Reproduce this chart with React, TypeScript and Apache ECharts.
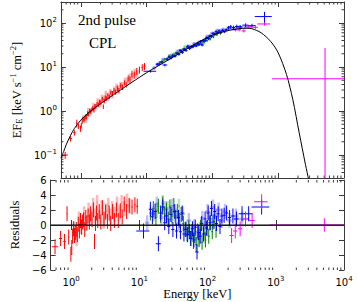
import React, { useEffect, useRef } from 'react';
import * as echarts from 'echarts';

// model curve (absorbed cutoff power law)
const modelEnergy = [0.5, 0.55, 0.6, 0.7, 0.8, 1.0, 1.3, 1.8, 2.5, 4, 6, 10, 15, 20, 30, 50, 85, 120, 170, 250, 330, 400, 550, 770, 1000, 1340, 1670, 2085, 2600, 2900, 3100];
const modelFlux = [0.085, 0.12, 0.17, 0.28, 0.4, 0.62, 0.9, 1.3, 1.85, 3.0, 4.5, 7.4, 10.6, 13.6, 19.5, 31, 47, 58, 67, 74, 76, 74, 60, 38, 21, 6.7, 1.8, 0.32, 0.06, 0.027, 0.012];

// [energy keV, half width keV, EF_E, relative error, residual]
const redPts = [
  [0.58, 0.06, 0.1, 0.18, -2.9], [0.7, 0.035, 0.235, 0.14, -1.8], [0.8, 0.035, 0.32, 0.14, -2.2],
  [0.87, 0.01, 0.53, 0.2, 1.5], [0.92, 0.015, 0.455, 0.14, -1.6], [0.99, 0.01, 0.4, 0.16, -3.9],
  [1.02, 0.01, 0.465, 0.14, -3.0], [1.05, 0.012, 0.575, 0.12, -1.5], [1.08, 0.012, 0.66, 0.12, -0.5],
  [1.12, 0.012, 0.64, 0.12, -1.4], [1.15, 0.012, 0.687, 0.12, -1.0], [1.19, 0.012, 0.75, 0.12, -0.6],
  [1.23, 0.015, 0.733, 0.12, -1.3], [1.27, 0.015, 0.88, 0.12, 0.1], [1.32, 0.015, 0.85, 0.12, -0.8],
  [1.37, 0.015, 1.01, 0.12, 0.6], [1.42, 0.015, 0.97, 0.12, -0.3], [1.47, 0.015, 1.07, 0.12, 0.4],
  [1.52, 0.02, 1.145, 0.12, 0.7], [1.58, 0.02, 1.05, 0.12, -0.6], [1.64, 0.02, 1.29, 0.12, 1.0],
  [1.7, 0.02, 1.26, 0.12, 0.3], [1.77, 0.02, 1.43, 0.12, 1.2], [1.85, 0.02, 1.39, 0.12, 0.4],
  [1.93, 0.02, 1.61, 0.12, 1.5], [2.02, 0.025, 1.57, 0.12, 0.7], [2.12, 0.025, 1.86, 0.12, 2.0],
  [2.2, 0.025, 1.26, 0.12, -2.2], [2.27, 0.025, 1.7, 0.12, 0.2], [2.36, 0.025, 2.02, 0.12, 1.6],
  [2.45, 0.03, 1.92, 0.12, 0.6], [2.58, 0.03, 2.25, 0.12, 1.8], [2.72, 0.03, 2.1, 0.12, 0.4],
  [2.87, 0.03, 2.62, 0.12, 2.3], [3.03, 0.035, 2.5, 0.14, 0.8], [3.2, 0.035, 2.91, 0.14, 1.7],
  [3.4, 0.04, 2.71, 0.14, 0.5], [3.6, 0.04, 3.25, 0.14, 1.6], [3.8, 0.04, 2.92, 0.14, 0.2],
  [4.05, 0.05, 3.75, 0.14, 1.8], [4.3, 0.05, 3.47, 0.14, 0.6], [4.6, 0.05, 4.35, 0.14, 2.0],
  [4.9, 0.06, 3.96, 0.14, 0.6], [5.25, 0.06, 5.44, 0.18, 1.9], [5.6, 0.07, 5.12, 0.18, 1.1],
  [6.0, 0.08, 7.0, 0.18, 2.8], [6.5, 0.08, 6.6, 0.18, 1.8], [7.1, 0.1, 8.06, 0.18, 2.6],
  [7.8, 0.15, 8.6, 0.18, 2.4], [8.6, 0.2, 9.8, 0.18, 2.7], [9.3, 0.3, 10.4, 0.18, 2.5],
];
const redLightPts = [
  [1.1, 0.02, 0.67, 0.2, -0.5], [1.2, 0.02, 0.66, 0.2, -1.8], [1.3, 0.02, 0.97, 0.2, 0.8],
  [1.4, 0.02, 0.96, 0.2, -0.2], [1.55, 0.025, 1.27, 0.2, 1.5], [1.65, 0.025, 1.21, 0.2, 0.2],
  [1.8, 0.03, 1.62, 0.2, 2.0], [1.95, 0.03, 1.55, 0.2, 0.9], [2.1, 0.03, 1.97, 0.2, 2.6],
  [2.25, 0.035, 1.86, 0.2, 1.2], [2.4, 0.035, 2.42, 0.2, 3.0], [2.6, 0.04, 2.15, 0.2, 1.0],
  [2.8, 0.04, 2.65, 0.2, 2.3], [3.0, 0.045, 2.38, 0.2, 0.5], [3.25, 0.05, 3.0, 0.2, 1.9],
  [3.5, 0.05, 3.5, 0.2, 2.6], [3.75, 0.055, 3.25, 0.2, 1.2], [4.0, 0.06, 3.85, 0.2, 2.2],
  [4.3, 0.065, 3.8, 0.2, 1.4], [4.7, 0.07, 4.8, 0.2, 2.8], [5.1, 0.08, 4.8, 0.2, 1.6],
  [5.5, 0.08, 5.9, 0.2, 3.0], [6.0, 0.09, 6.1, 0.2, 2.2], [6.6, 0.1, 7.6, 0.2, 3.2],
  [7.2, 0.11, 7.1, 0.2, 2.5],
];
const greenPts = [
  [14.5, 0.45, 11.3, 0.07, 1.6], [16, 0.5, 12.7, 0.07, 2.2], [17.5, 0.5, 12.8, 0.07, 1.0],
  [19, 0.6, 15.0, 0.07, 2.5], [20.5, 0.6, 15.0, 0.07, 1.3], [22, 0.7, 17.3, 0.07, 2.8],
  [23.5, 0.7, 17.1, 0.07, 1.5], [25, 0.8, 18.6, 0.07, 2.0], [26.5, 0.8, 18.3, 0.07, 0.8],
  [28, 0.9, 20.9, 0.07, 2.4], [30, 0.9, 20.9, 0.07, 1.2], [32, 1.0, 23.9, 0.07, 2.6],
  [34, 1.0, 23.2, 0.07, 1.0], [36, 1.1, 25.5, 0.07, 1.8], [38.5, 1.2, 25.4, 0.07, 0.6],
  [41, 1.2, 28.1, 0.07, 1.4], [44, 1.3, 27.9, 0.07, 0.2], [47, 1.4, 28.2, 0.07, -0.6],
  [50, 1.5, 28.8, 0.07, -1.2], [53, 1.6, 31.6, 0.07, -0.4], [56, 1.7, 30.2, 0.07, -1.8],
  [59, 1.8, 33.4, 0.07, -0.9], [62, 1.9, 31.9, 0.07, -2.2], [65, 2.0, 34.8, 0.07, -1.4],
  [68, 2.0, 33.3, 0.07, -2.6], [71, 2.1, 38.8, 0.07, -0.8], [75, 2.2, 37.7, 0.07, -1.9],
  [79, 2.4, 43.5, 0.07, -0.3], [83, 2.5, 39.7, 0.07, -2.3], [88, 2.6, 45.1, 0.07, -1.0],
  [93, 2.8, 43.6, 0.07, -2.0], [98, 2.9, 49.8, 0.07, -0.5], [104, 3.1, 48.4, 0.07, -1.5],
  [110, 3.3, 56.0, 0.07, 0.3], [117, 3.5, 54.0, 0.07, -0.9], [125, 3.8, 60.8, 0.07, 0.5],
  [133, 4.0, 58.1, 0.07, -0.7],
];
const greenLightPts = [
  [18, 0.7, 14.1, 0.1, 2.0], [22, 0.9, 17.9, 0.1, 3.0], [26, 1.0, 19.8, 0.1, 2.2],
  [32, 1.3, 22.9, 0.1, 1.5], [38, 1.5, 28.4, 0.1, 2.5], [60, 2.4, 33.3, 0.1, -1.0],
  [75, 3.0, 36.5, 0.1, -2.0], [90, 3.6, 43.6, 0.1, -1.5],
];
const bluePts = [
  [11.5, 2.5, 8.0, 0.07, -0.8], [14.5, 0.8, 11.6, 0.07, 2.1], [15.5, 0.8, 11.6, 0.07, 1.1],
  [17, 0.9, 13.1, 0.07, 1.8], [19, 1.6, 11.1, 0.07, -2.5], [20.5, 1.0, 15.2, 0.07, 1.6],
  [22, 1.1, 16.9, 0.07, 2.4], [23.5, 1.2, 16.0, 0.07, 0.3], [25, 1.3, 17.8, 0.07, 1.2],
  [27, 1.4, 17.6, 0.07, -0.2], [29, 1.5, 20.5, 0.07, 1.4], [31, 1.6, 19.4, 0.07, -0.6],
  [33, 1.7, 23.6, 0.07, 1.8], [35, 1.8, 21.3, 0.07, -0.8], [37.5, 1.9, 25.3, 0.07, 1.0],
  [40, 2.0, 23.9, 0.07, -0.9], [42.5, 2.1, 29.4, 0.07, 1.6], [45, 2.3, 26.2, 0.07, -1.2],
  [48, 2.4, 28.8, 0.07, -0.6], [51, 2.6, 29.0, 0.07, -1.3], [54, 2.7, 31.1, 0.07, -0.9],
  [57, 2.9, 30.6, 0.07, -1.8], [60, 3.0, 34.7, 0.07, -0.5], [63, 3.2, 32.6, 0.07, -2.0],
  [66, 3.3, 37.8, 0.07, -0.3], [70, 4.0, 31.6, 0.07, -3.6], [74, 3.7, 39.6, 0.07, -1.0],
  [78, 3.9, 39.9, 0.07, -1.5], [82, 4.1, 46.1, 0.07, 0.2], [87, 4.4, 44.3, 0.07, -1.2],
  [92, 4.6, 51.7, 0.07, 0.8], [97, 4.9, 49.7, 0.07, -0.4], [102, 5.1, 57.5, 0.07, 1.6],
  [108, 5.4, 55.4, 0.07, 0.3], [114, 5.7, 63.6, 0.07, 2.2], [120, 6.0, 59.4, 0.07, 0.4],
  [127, 6.4, 65.8, 0.07, 1.8], [135, 6.8, 61.6, 0.07, 0.2], [143, 7.2, 68.0, 0.07, 1.5],
  [152, 7.6, 63.2, 0.07, -0.2], [162, 8.1, 70.5, 0.07, 1.2], [175, 9, 78, 0.1, 1.3],
  [190, 10, 82, 0.1, 1.6], [210, 12, 79, 0.1, 1.0], [235, 15, 83, 0.1, 1.2],
  [265, 20, 81.5, 0.1, 0.8], [320, 35, 89.4, 0.1, 1.5], [400, 55, 87, 0.1, 1.5],
  [620, 180, 140, 0.28, 2.4],
];
const blueLightPts = [
  [13, 1.0, 9.5, 0.1, 0.3], [16, 1.3, 12.4, 0.1, 1.5], [18, 1.4, 14.8, 0.1, 2.8],
  [21, 1.7, 15.2, 0.1, 1.0], [24, 1.9, 18.5, 0.1, 2.2], [27, 2.2, 18.8, 0.1, 0.8],
  [30, 2.4, 22.9, 0.1, 2.5], [34, 2.7, 23.7, 0.1, 1.2], [38, 3.0, 24.5, 0.1, 0.2],
  [43, 3.4, 29.9, 0.1, 1.5], [48, 3.8, 28.9, 0.1, -0.5], [53, 4.2, 33.8, 0.1, 0.6],
  [58, 4.6, 31.9, 0.1, -1.2], [64, 5.1, 37.1, 0.1, -0.2], [70, 5.6, 35.2, 0.1, -1.8],
  [77, 6.2, 41.7, 0.1, -0.6], [84, 6.7, 49.5, 0.1, 0.9], [92, 7.4, 47.9, 0.1, -0.4],
  [100, 8, 58.4, 0.1, 1.8], [110, 9, 58.1, 0.1, 0.8], [120, 10, 67.7, 0.1, 2.4],
  [132, 11, 65.4, 0.1, 1.2], [145, 12, 71.6, 0.1, 2.0], [160, 13, 68.1, 0.1, 0.6],
  [180, 15, 76.6, 0.1, 1.8], [210, 18, 73.8, 0.1, 0.6], [260, 25, 80.5, 0.1, 1.2],
  [320, 90, 80.0, 0.1, 0.8],
];
const magentaPts = [
  [225, 15, 70, 0.08, -1.4], [255, 18, 70, 0.08, -0.8], [300, 22, 66, 0.08, -0.5],
  [360, 30, 82, 0.08, 0.8], [450, 40, 80, 0.08, 0.6], [620, 140, 95, 0.08, 3.1],
];
// [energy, low edge, high edge, EF_E, upper EF_E, residual, residual error]
const magentaWide = [5150, 805, 10000, 5.4, 27, 0, 0.9];

const residualTicks = [-6, -4, -2, 0, 2, 4, 6];

const AX = '#3a3a3a';

function minorList(lo: number, hi: number) {
  const out: number[] = [];
  for (let p = -3; p <= 5; p++) {
    for (let m = 2; m <= 9; m++) {
      const v = m * Math.pow(10, p);
      if (v > lo && v < hi) out.push(v);
    }
  }
  return out;
}

function topData(pts: number[][]) {
  return pts.map(([e, de, v, rel]) => [e, v, e - de, e + de, v * (1 - rel), v * (1 + rel)]);
}
function resData(pts: number[][]) {
  return pts.map(([e, de, , , r]) => [e, r, e - de, e + de, r - 1, r + 1]);
}

function errRender(color: string, lw: number, opacity: number) {
  return (params: any, api: any) => {
    const c = api.coord([api.value(0), api.value(1)]);
    const l = api.coord([api.value(2), api.value(1)]);
    const r = api.coord([api.value(3), api.value(1)]);
    const b = api.coord([api.value(0), api.value(4)]);
    const t = api.coord([api.value(0), api.value(5)]);
    const style = { stroke: color, lineWidth: lw, opacity };
    return {
      type: 'group',
      children: [
        { type: 'line', shape: { x1: l[0], y1: c[1], x2: r[0], y2: c[1] }, style },
        { type: 'line', shape: { x1: c[0], y1: b[1], x2: c[0], y2: t[1] }, style },
      ],
    };
  };
}

function errSeries(name: string, data: number[][], xi: number, yi: number, color: string, lw: number, opacity: number) {
  return {
    name,
    type: 'custom',
    xAxisIndex: xi,
    yAxisIndex: yi,
    clip: true,
    silent: true,
    dimensions: ['x', 'y', 'xl', 'xh', 'yl', 'yh'],
    encode: { x: 0, y: 1 },
    renderItem: errRender(color, lw, opacity),
    data,
  };
}

function xMinorSeries(vals: number[], xi: number, yi: number, yRef: number) {
  return {
    type: 'custom',
    xAxisIndex: xi,
    yAxisIndex: yi,
    silent: true,
    encode: { x: 0, y: 1 },
    data: vals.map((v) => [v, yRef]),
    renderItem: (params: any, api: any) => {
      const cs = params.coordSys;
      const x = api.coord([api.value(0), api.value(1)])[0];
      const st = { stroke: AX, lineWidth: 1 };
      return {
        type: 'group',
        children: [
          { type: 'line', shape: { x1: x, y1: cs.y + cs.height, x2: x, y2: cs.y + cs.height - 2.5 }, style: st },
          { type: 'line', shape: { x1: x, y1: cs.y, x2: x, y2: cs.y + 2.5 }, style: st },
        ],
      };
    },
  };
}

function yMinorSeries(vals: number[], xi: number, yi: number) {
  return {
    type: 'custom',
    xAxisIndex: xi,
    yAxisIndex: yi,
    silent: true,
    encode: { x: 0, y: 1 },
    data: vals.map((v) => [1, v]),
    renderItem: (params: any, api: any) => {
      const cs = params.coordSys;
      const y = api.coord([api.value(0), api.value(1)])[1];
      const st = { stroke: AX, lineWidth: 1 };
      return {
        type: 'group',
        children: [
          { type: 'line', shape: { x1: cs.x, y1: y, x2: cs.x + 2.5, y2: y }, style: st },
          { type: 'line', shape: { x1: cs.x + cs.width, y1: y, x2: cs.x + cs.width - 2.5, y2: y }, style: st },
        ],
      };
    },
  };
}

const powRich = {
  b: { fontSize: 10, fontFamily: 'DejaVu Sans', color: '#000', verticalAlign: 'bottom' },
  s: { fontSize: 7, fontFamily: 'DejaVu Sans', color: '#000', verticalAlign: 'bottom', padding: [0, 0, 5, 0] },
};
function powLabel(v: number) {
  const l = Math.log10(v);
  const k = Math.round(l);
  if (Math.abs(l - k) > 1e-6) return '';
  return '{b|10}{s|' + (k < 0 ? '\u2212' + Math.abs(k) : String(k)) + '}';
}

const tickStyle = { show: true, inside: true, length: 5, lineStyle: { color: AX, width: 1 } };
const lineStyleAx = { show: true, lineStyle: { color: AX, width: 1 } };

export default function App() {
  const ref = useRef<HTMLDivElement>(null);
  useEffect(() => {
    if (!ref.current) return;
    const chart = echarts.init(ref.current, undefined, { renderer: 'svg' });
    const X0 = 0.5, X1 = 10000, Y0 = 0.03, Y1 = 300;
    const logX = (grid: number, pos: string, labels: boolean, name?: string) => ({
      type: 'log',
      logBase: 10,
      gridIndex: grid,
      position: pos,
      min: X0,
      max: X1,
      axisLine: lineStyleAx,
      axisTick: tickStyle,
      splitLine: { show: false },
      axisLabel: labels
        ? { show: true, margin: 5, formatter: powLabel, rich: powRich }
        : { show: false },
      name: name || '',
      nameLocation: 'middle',
      nameGap: 17,
      nameTextStyle: { fontFamily: 'Liberation Serif', fontSize: 12.5, color: '#000' },
    });
    const option: any = {
      animation: false,
      backgroundColor: '#fff',
      grid: [
        { left: 45, top: 2, width: 299, height: 176 },
        { left: 45, top: 180, width: 299, height: 90 },
      ],
      xAxis: [
        logX(0, 'bottom', false),
        logX(0, 'top', false),
        logX(1, 'bottom', true, 'Energy [keV]'),
        logX(1, 'top', false),
      ],
      yAxis: [
        {
          type: 'log', logBase: 10, gridIndex: 0, position: 'left', min: Y0, max: Y1,
          axisLine: lineStyleAx, axisTick: tickStyle, splitLine: { show: false },
          axisLabel: { show: true, margin: 4, formatter: powLabel, rich: powRich },
          name: '{n|EF}{sb|E}{n| [keV s}{sp|\u22121}{n| cm}{sp|\u22122}{n|]}',
          nameLocation: 'middle', nameGap: 27, nameRotate: 90,
          nameTextStyle: {
            rich: {
              n: { fontFamily: 'Liberation Serif', fontSize: 12.5, color: '#000', verticalAlign: 'bottom' },
              sb: { fontFamily: 'Liberation Serif', fontSize: 8.5, color: '#000', verticalAlign: 'bottom', padding: [0, 0, 0, 0] },
              sp: { fontFamily: 'Liberation Serif', fontSize: 8.5, color: '#000', verticalAlign: 'bottom', padding: [0, 0, 6, 0] },
            },
          },
        },
        {
          type: 'log', logBase: 10, gridIndex: 0, position: 'right', min: Y0, max: Y1,
          axisLine: lineStyleAx, axisTick: tickStyle, splitLine: { show: false }, axisLabel: { show: false },
        },
        {
          type: 'value', gridIndex: 1, position: 'left', min: -6, max: 6, interval: 2,
          axisLine: lineStyleAx, axisTick: tickStyle, splitLine: { show: false },
          axisLabel: {
            show: true, margin: 4, fontFamily: 'DejaVu Sans', fontSize: 10, color: '#000',
            formatter: (v: number) => (residualTicks.includes(v) ? (v < 0 ? '\u2212' + Math.abs(v) : String(v)) : ''),
          },
          name: 'Residuals', nameLocation: 'middle', nameGap: 24, nameRotate: 90,
          nameTextStyle: { fontFamily: 'Liberation Serif', fontSize: 12.5, color: '#000' },
        },
        {
          type: 'value', gridIndex: 1, position: 'right', min: -6, max: 6, interval: 2,
          axisLine: lineStyleAx, axisTick: tickStyle, splitLine: { show: false }, axisLabel: { show: false },
        },
      ],
      graphic: [
        { type: 'text', left: 78, top: 12, style: { text: '2nd pulse', fontFamily: 'Liberation Serif', fontSize: 15, fill: '#000' } },
        { type: 'text', left: 89, top: 35, style: { text: 'CPL', fontFamily: 'Liberation Serif', fontSize: 15, fill: '#000' } },
      ],
      series: [
        xMinorSeries(minorList(X0, X1), 0, 0, 1),
        yMinorSeries(minorList(Y0, Y1), 0, 0),
        xMinorSeries(minorList(X0, X1), 2, 2, 0),
        // light error bars
        errSeries('redLightTop', topData(redLightPts), 0, 0, '#ff3030', 2.5, 0.35),
        errSeries('blueLightTop', topData(blueLightPts), 0, 0, '#3030ff', 2.5, 0.3),
        errSeries('greenLightTop', topData(greenLightPts), 0, 0, '#20a020', 2.5, 0.3),
        errSeries('redLightRes', resData(redLightPts), 2, 2, '#ff3030', 2.5, 0.35),
        errSeries('blueLightRes', resData(blueLightPts), 2, 2, '#3030ff', 2.5, 0.3),
        errSeries('greenLightRes', resData(greenLightPts), 2, 2, '#20a020', 2.5, 0.3),
        // data
        errSeries('redTop', topData(redPts), 0, 0, '#ff0000', 1, 1),
        errSeries('greenTop', topData(greenPts), 0, 0, '#008000', 1, 1),
        errSeries('blueTop', topData(bluePts), 0, 0, '#0000ff', 1, 1),
        errSeries('magentaTop', topData(magentaPts), 0, 0, '#ff00ff', 1, 1),
        errSeries('magentaWideTop', [[magentaWide[0], magentaWide[3], magentaWide[1], magentaWide[2], 0.001, magentaWide[4]]], 0, 0, '#ff00ff', 1, 1),
        errSeries('redRes', resData(redPts), 2, 2, '#ff0000', 1, 1),
        errSeries('greenRes', resData(greenPts), 2, 2, '#008000', 1, 1),
        errSeries('blueRes', resData(bluePts), 2, 2, '#0000ff', 1, 1),
        errSeries('magentaRes', resData(magentaPts), 2, 2, '#ff00ff', 1, 1),
        errSeries('magentaWideRes', [[magentaWide[0], magentaWide[5], magentaWide[1], magentaWide[2], magentaWide[5] - magentaWide[6], magentaWide[5] + magentaWide[6]]], 2, 2, '#ff00ff', 1, 1),
        {
          name: 'model', type: 'line', xAxisIndex: 0, yAxisIndex: 0, clip: true, silent: true,
          smooth: 0.3, showSymbol: false, symbol: 'none',
          lineStyle: { color: '#000', width: 1 },
          data: modelEnergy.map((e, i) => [e, modelFlux[i]]),
        },
        {
          name: 'zero', type: 'line', xAxisIndex: 2, yAxisIndex: 2, silent: true, symbol: 'none',
          lineStyle: { color: '#000', width: 1 },
          data: [[X0, 0], [X1, 0]],
        },
      ],
    };
    chart.setOption(option);
    return () => chart.dispose();
  }, []);
  return <div ref={ref} style={{ position: 'fixed', left: 0, top: 0, width: 357, height: 302 }} />;
}
